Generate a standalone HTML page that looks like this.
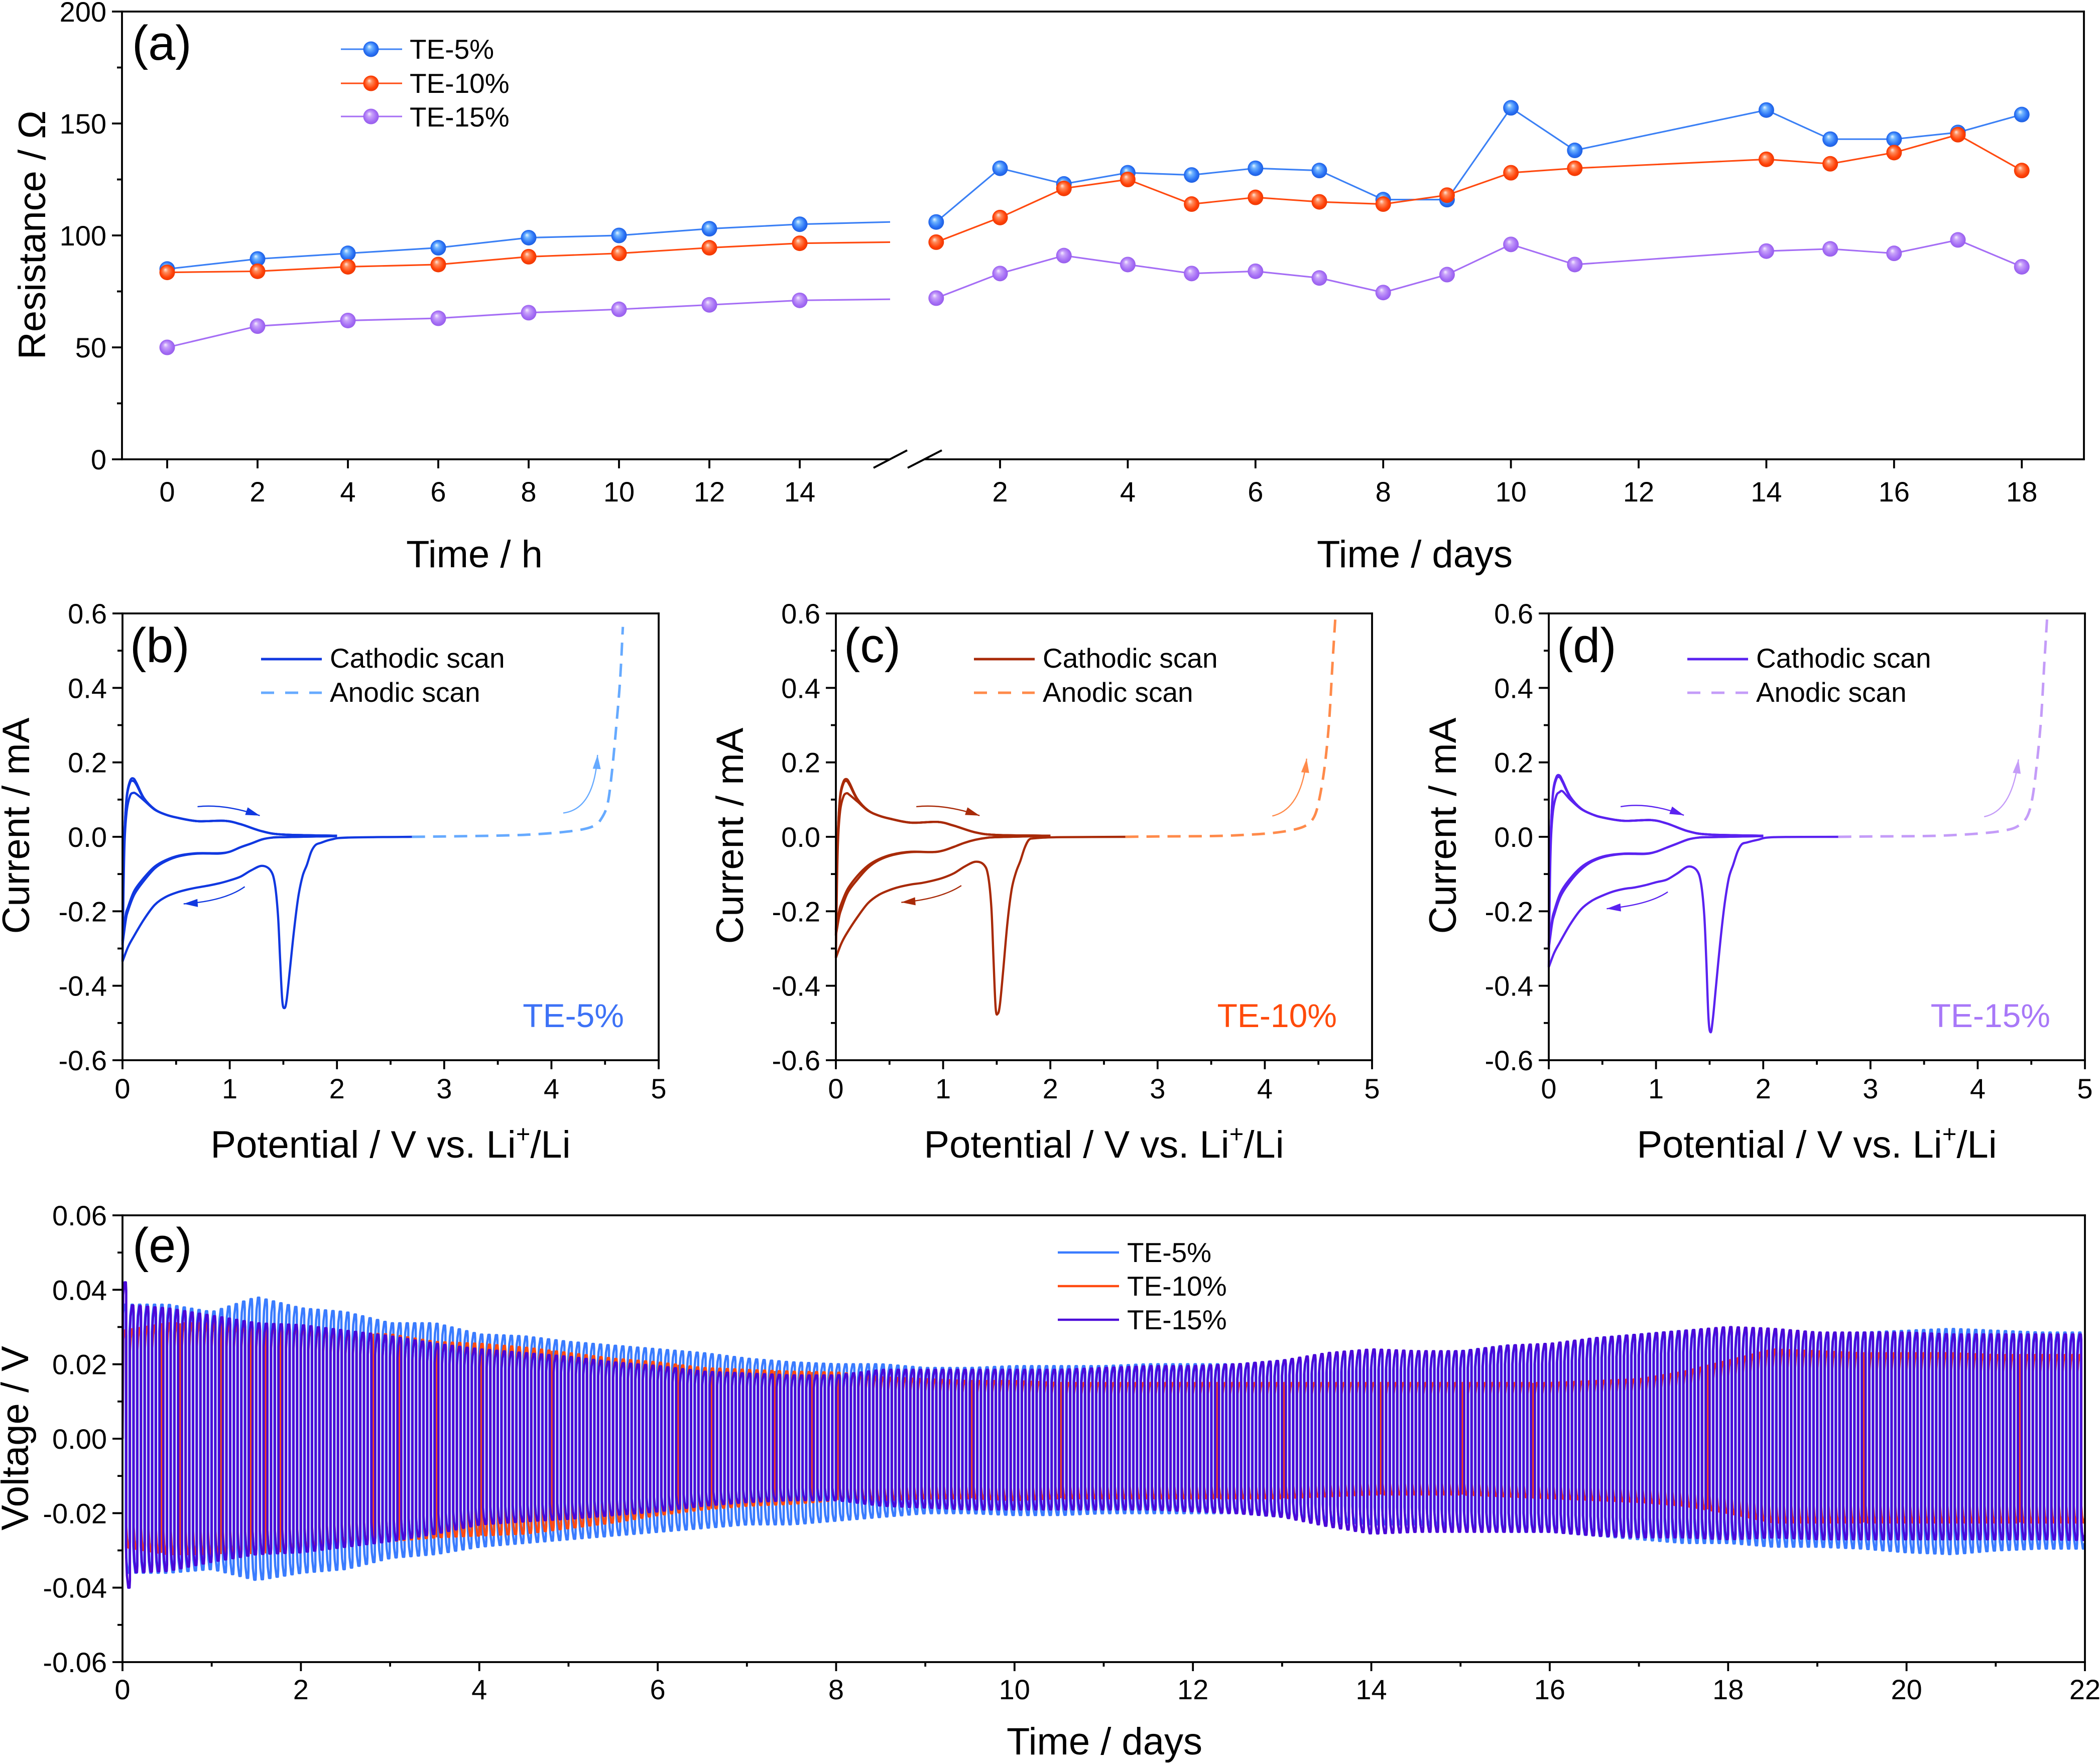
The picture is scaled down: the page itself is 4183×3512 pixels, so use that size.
<!DOCTYPE html>
<html>
<head>
<meta charset="utf-8">
<title>Resistance, cyclic voltammetry and voltage profiles</title>
<style>
html,body{margin:0;padding:0;background:#fff;}
svg{display:block;}
text{font-family:"Liberation Sans",Arial,sans-serif;fill:#000;}
.tick{font-size:56px;}
.title{font-size:76px;}
.leg{font-size:55px;}
.plabel{font-size:97px;}
</style>
</head>
<body>
<svg id="chart" xmlns="http://www.w3.org/2000/svg" width="4183" height="3512" viewBox="0 0 4183 3512">
<defs>
<radialGradient id="gradBlue" cx="0.5" cy="0.5" r="0.55" fx="0.38" fy="0.32"><stop offset="0" stop-color="#e8f6ff"/><stop offset="0.28" stop-color="#6fb4ff"/><stop offset="0.7" stop-color="#2a72f5"/><stop offset="1" stop-color="#1a58d8"/></radialGradient>
<radialGradient id="gradOrange" cx="0.5" cy="0.5" r="0.55" fx="0.38" fy="0.32"><stop offset="0" stop-color="#ffe6dc"/><stop offset="0.28" stop-color="#ff8a5a"/><stop offset="0.7" stop-color="#ff4208"/><stop offset="1" stop-color="#e83400"/></radialGradient>
<radialGradient id="gradPurple" cx="0.5" cy="0.5" r="0.55" fx="0.38" fy="0.32"><stop offset="0" stop-color="#f6eeff"/><stop offset="0.28" stop-color="#c8a2fa"/><stop offset="0.7" stop-color="#a56ef5"/><stop offset="1" stop-color="#9258e8"/></radialGradient>
<clipPath id="clipE"><rect x="244" y="2421" width="3909" height="890"/></clipPath>
</defs>
<rect x="0" y="0" width="4183" height="3512" fill="#fff"/>

<g id="panelA"></g>
<g id="panelB"></g>
<g id="panelC"></g>
<g id="panelD"></g>
<g id="panelE"></g>

<g>
<text class="plabel" x="263" y="119">(a)</text>
<text class="title" transform="translate(90 468) rotate(-90)" text-anchor="middle">Resistance / Ω</text>
<text class="title" x="945" y="1130" text-anchor="middle">Time / h</text>
<text class="title" x="2818" y="1130" text-anchor="middle">Time / days</text>
<g>
<line x1="679" x2="801" y1="98" y2="98" stroke="#3b80f5" stroke-width="3"/>
<circle cx="739" cy="98" r="15.5" fill="url(#gradBlue)"/>
<text class="leg" x="816" y="117">TE-5%</text>
<line x1="679" x2="801" y1="166" y2="166" stroke="#ff4a10" stroke-width="3"/>
<circle cx="739" cy="166" r="15.5" fill="url(#gradOrange)"/>
<text class="leg" x="816" y="185">TE-10%</text>
<line x1="679" x2="801" y1="232" y2="232" stroke="#a56ef5" stroke-width="3"/>
<circle cx="739" cy="232" r="15.5" fill="url(#gradPurple)"/>
<text class="leg" x="816" y="252">TE-15%</text>
</g>
</g>

<g>
<text class="plabel" x="259" y="1319">(b)</text>
<text class="title" transform="translate(58 1645) rotate(-90)" text-anchor="middle">Current / mA</text>
<text class="title" x="778" y="2306" text-anchor="middle">Potential / V vs. Li<tspan dy="-30" font-size="49">+</tspan><tspan dy="30">/Li</tspan></text>
<line x1="520" x2="641" y1="1313" y2="1313" stroke="#1038e0" stroke-width="5"/>
<text class="leg" x="657" y="1330">Cathodic scan</text>
<line x1="520" x2="641" y1="1380" y2="1380" stroke="#66aaff" stroke-width="5" stroke-dasharray="26 22"/>
<text class="leg" x="657" y="1398">Anodic scan</text>
<text x="1243" y="2046" text-anchor="end" font-size="66" style="fill:#3d72f6">TE-5%</text>
</g>

<g>
<text class="plabel" x="1681" y="1319">(c)</text>
<text class="title" transform="translate(1480 1665) rotate(-90)" text-anchor="middle">Current / mA</text>
<text class="title" x="2199" y="2306" text-anchor="middle">Potential / V vs. Li<tspan dy="-30" font-size="49">+</tspan><tspan dy="30">/Li</tspan></text>
<line x1="1940" x2="2061" y1="1313" y2="1313" stroke="#a82a08" stroke-width="5"/>
<text class="leg" x="2077" y="1330">Cathodic scan</text>
<line x1="1940" x2="2061" y1="1380" y2="1380" stroke="#ff8a4a" stroke-width="5" stroke-dasharray="26 22"/>
<text class="leg" x="2077" y="1398">Anodic scan</text>
<text x="2663" y="2046" text-anchor="end" font-size="66" style="fill:#ff4a0a">TE-10%</text>
</g>

<g>
<text class="plabel" x="3101" y="1319">(d)</text>
<text class="title" transform="translate(2900 1645) rotate(-90)" text-anchor="middle">Current / mA</text>
<text class="title" x="3619" y="2306" text-anchor="middle">Potential / V vs. Li<tspan dy="-30" font-size="49">+</tspan><tspan dy="30">/Li</tspan></text>
<line x1="3361" x2="3482" y1="1313" y2="1313" stroke="#5a22f0" stroke-width="5"/>
<text class="leg" x="3498" y="1330">Cathodic scan</text>
<line x1="3361" x2="3482" y1="1380" y2="1380" stroke="#c49cf8" stroke-width="5" stroke-dasharray="26 22"/>
<text class="leg" x="3498" y="1398">Anodic scan</text>
<text x="4084" y="2046" text-anchor="end" font-size="66" style="fill:#a878f8">TE-15%</text>
</g>

<g id="panelEText">
<text class="plabel" x="264" y="2514">(e)</text>
<text class="title" transform="translate(56 2865) rotate(-90)" text-anchor="middle">Voltage / V</text>
<text class="title" x="2200" y="3495" text-anchor="middle">Time / days</text>
<line x1="2107" x2="2229" y1="2495" y2="2495" stroke="#3a7cff" stroke-width="4.6"/>
<text class="leg" x="2245" y="2514">TE-5%</text>
<line x1="2107" x2="2229" y1="2562" y2="2562" stroke="#ff4a10" stroke-width="4.6"/>
<text class="leg" x="2245" y="2581">TE-10%</text>
<line x1="2107" x2="2229" y1="2629" y2="2629" stroke="#4a08d8" stroke-width="4.6"/>
<text class="leg" x="2245" y="2648">TE-15%</text>
</g>
</svg>

<script>
/* ---------- panel (a) data ---------- */
const hourTimes = [0, 2, 4, 6, 8, 10, 12, 14, 16];
const hourTe5  = [85, 89.5, 92, 94.5, 99, 100, 103, 105, 106];
const hourTe10 = [83.5, 84, 86, 87, 90.5, 92, 94.5, 96.5, 97];
const hourTe15 = [50, 59.5, 62, 63, 65.5, 67, 69, 71, 71.5];
const dayTimes = [1, 2, 3, 4, 5, 6, 7, 8, 9, 10, 11, 14, 15, 16, 17, 18];
const dayTe5  = [106, 130, 123, 128, 127, 130, 129, 116, 116, 157, 138, 156, 143, 143, 146, 154];
const dayTe10 = [97, 108, 121, 125, 114, 117, 115, 114, 118, 128, 130, 134, 132, 137, 145, 129];
const dayTe15 = [72, 83, 91, 87, 83, 84, 81, 74.5, 82.5, 96, 87, 93, 94, 92, 98, 86];
const aYTicks = [0, 50, 100, 150, 200];
const aYMinor = [25, 75, 125, 175];
const aHourTicks = [0, 2, 4, 6, 8, 10, 12, 14];
const aDayTicks = [2, 4, 6, 8, 10, 12, 14, 16, 18];

/* ---------- panels (b,c,d) data ---------- */
const cvYTicks = [-0.6, -0.4, -0.2, 0, 0.2, 0.4, 0.6];
const cvYLabels = ['-0.6', '-0.4', '-0.2', '0.0', '0.2', '0.4', '0.6'];
const cvYMinor = [-0.5, -0.3, -0.1, 0.1, 0.3, 0.5];
const cvXTicks = [0, 1, 2, 3, 4, 5];
const cvXMinor = [0.5, 1.5, 2.5, 3.5, 4.5];

const firstSweepV = [2.7, 2.1, 1.95, 1.85, 1.8, 1.76, 1.72, 1.68, 1.64, 1.6, 1.56, 1.53, 1.51, 1.49, 1.47, 1.45, 1.42, 1.38, 1.3, 1.2, 1.1, 1.0, 0.9, 0.8, 0.7, 0.6, 0.5, 0.4, 0.3, 0.2, 0.1, 0.05, 0];
const laterSweepV = [2, 1.5, 1.4, 1.3, 1.2, 1.1, 1.0, 0.9, 0.7, 0.53, 0.4, 0.3, 0.2, 0.11, 0.05, 0.03, 0];
const returnSweepV = [0, 0.01, 0.02, 0.04, 0.07, 0.1, 0.13, 0.2, 0.3, 0.4, 0.5, 0.7, 0.95, 1.1, 1.3, 1.5, 2];

const bFirstI = [0, -0.002, -0.007, -0.016, -0.022, -0.04, -0.075, -0.105, -0.16, -0.25, -0.36, -0.44, -0.46, -0.44, -0.33, -0.21, -0.125, -0.09, -0.078, -0.09, -0.107, -0.117, -0.125, -0.131, -0.136, -0.142, -0.15, -0.162, -0.183, -0.222, -0.27, -0.297, -0.335];
const bReturn1I = [-0.335, -0.14, -0.01, 0.07, 0.11, 0.118, 0.115, 0.098, 0.073, 0.06, 0.052, 0.042, 0.043, 0.034, 0.015, 0.006, 0.003];
const bLater2I = [0.002, -0.001, -0.002, -0.007, -0.018, -0.028, -0.04, -0.044, -0.044, -0.05, -0.063, -0.08, -0.11, -0.145, -0.19, -0.21, -0.28];
const bReturn2I = [-0.28, -0.1, 0.02, 0.11, 0.15, 0.157, 0.145, 0.104, 0.074, 0.06, 0.052, 0.042, 0.043, 0.034, 0.015, 0.006, 0.003];
const bLater3I = [0.002, -0.001, -0.002, -0.007, -0.018, -0.028, -0.04, -0.045, -0.045, -0.052, -0.066, -0.085, -0.118, -0.155, -0.2, -0.225, -0.29];
const bReturn3I = [-0.29, -0.1, 0.02, 0.105, 0.145, 0.15, 0.14, 0.102, 0.074, 0.06, 0.052, 0.042, 0.043, 0.034, 0.015, 0.006, 0.003];
const bAnodicV = [2.7, 3.0, 3.45, 3.8, 4.08, 4.29, 4.4, 4.457, 4.52, 4.56, 4.6, 4.64, 4.666];
const bAnodicI = [0, 0.001, 0.003, 0.006, 0.012, 0.02, 0.03, 0.045, 0.084, 0.163, 0.282, 0.42, 0.564];

const cFirstI = [0, -0.001, -0.002, -0.004, -0.008, -0.03, -0.065, -0.095, -0.14, -0.23, -0.36, -0.45, -0.475, -0.46, -0.33, -0.19, -0.105, -0.075, -0.067, -0.08, -0.098, -0.11, -0.118, -0.124, -0.128, -0.134, -0.143, -0.156, -0.178, -0.216, -0.26, -0.287, -0.325];
const cReturn1I = [-0.325, -0.13, -0.01, 0.07, 0.108, 0.117, 0.112, 0.095, 0.07, 0.057, 0.049, 0.038, 0.04, 0.03, 0.012, 0.005, 0.003];
const cLater2I = [0.003, -0.001, -0.003, -0.008, -0.016, -0.027, -0.037, -0.041, -0.04, -0.047, -0.06, -0.077, -0.105, -0.14, -0.18, -0.2, -0.25];
const cReturn2I = [-0.25, -0.09, 0.02, 0.11, 0.148, 0.155, 0.143, 0.102, 0.071, 0.057, 0.049, 0.038, 0.04, 0.03, 0.012, 0.005, 0.003];
const cLater3I = [0.003, -0.001, -0.003, -0.008, -0.016, -0.027, -0.037, -0.041, -0.041, -0.049, -0.063, -0.083, -0.115, -0.15, -0.195, -0.215, -0.265];
const cReturn3I = [-0.265, -0.09, 0.02, 0.105, 0.143, 0.15, 0.138, 0.1, 0.071, 0.057, 0.049, 0.038, 0.04, 0.03, 0.012, 0.005, 0.003];
const cAnodicV = [2.7, 3.0, 3.5, 3.8, 4.06, 4.25, 4.38, 4.46, 4.51, 4.56, 4.6, 4.63, 4.66];
const cAnodicI = [0, 0.001, 0.002, 0.005, 0.01, 0.018, 0.03, 0.054, 0.104, 0.193, 0.312, 0.46, 0.6];

const dFirstI = [0, -0.001, -0.008, -0.015, -0.02, -0.04, -0.075, -0.11, -0.18, -0.28, -0.4, -0.49, -0.525, -0.49, -0.34, -0.21, -0.125, -0.09, -0.08, -0.098, -0.115, -0.122, -0.13, -0.136, -0.14, -0.147, -0.158, -0.172, -0.195, -0.235, -0.285, -0.312, -0.35];
const dReturn1I = [-0.35, -0.14, -0.01, 0.07, 0.11, 0.12, 0.122, 0.1, 0.075, 0.061, 0.052, 0.043, 0.045, 0.036, 0.015, 0.006, 0.003];
const dLater2I = [0.002, -0.001, -0.002, -0.007, -0.018, -0.029, -0.04, -0.045, -0.045, -0.051, -0.064, -0.082, -0.112, -0.15, -0.2, -0.225, -0.29];
const dReturn2I = [-0.29, -0.11, 0.02, 0.12, 0.16, 0.165, 0.15, 0.108, 0.076, 0.061, 0.052, 0.043, 0.045, 0.036, 0.015, 0.006, 0.003];
const dLater3I = [0.002, -0.001, -0.002, -0.007, -0.018, -0.029, -0.04, -0.046, -0.046, -0.053, -0.067, -0.088, -0.12, -0.16, -0.21, -0.235, -0.3];
const dReturn3I = [-0.3, -0.11, 0.02, 0.115, 0.155, 0.16, 0.146, 0.106, 0.076, 0.061, 0.052, 0.043, 0.045, 0.036, 0.015, 0.006, 0.003];
const dAnodicV = [2.7, 3.0, 3.5, 3.8, 4.06, 4.25, 4.37, 4.46, 4.51, 4.55, 4.59, 4.62, 4.65];
const dAnodicI = [0, 0.001, 0.002, 0.005, 0.01, 0.017, 0.028, 0.054, 0.104, 0.193, 0.312, 0.46, 0.6];

/* scan-direction arrows: [startV,startI, ctrlV,ctrlI, endV,endI] */
const bArrowForward = [0.70, 0.081, 0.95, 0.089, 1.28, 0.057];
const bArrowBack = [1.14, -0.134, 0.95, -0.173, 0.57, -0.18];
const bArrowAnodic = [4.11, 0.064, 4.40, 0.074, 4.43, 0.22];
const cArrowForward = [0.75, 0.081, 1.01, 0.089, 1.34, 0.057];
const cArrowBack = [1.17, -0.131, 0.97, -0.168, 0.61, -0.176];
const cArrowAnodic = [4.07, 0.056, 4.34, 0.074, 4.39, 0.21];
const dArrowForward = [0.67, 0.081, 0.93, 0.094, 1.26, 0.058];
const dArrowBack = [1.11, -0.148, 0.93, -0.183, 0.54, -0.193];
const dArrowAnodic = [4.06, 0.054, 4.32, 0.069, 4.38, 0.208];

/* ---------- panel (e) data: peak envelopes read at half-day steps ---------- */
const eDays = [0,0.5,1,1.5,2,2.5,3,3.5,4,4.5,5,5.5,6,6.5,7,7.5,8,8.5,9,9.5,10,10.5,11,11.5,12,12.5,13,13.5,14,14.5,15,15.5,16,16.5,17,17.5,18,18.5,19,19.5,20,20.5,21,21.5,22];
const te5Upper = [.036,.036,.034,.038,.035,.034,.031,.031,.028,.0275,.026,.025,.024,.023,.0215,.0205,.020,.020,.019,.019,.0195,.0195,.0195,.02,.02,.02,.021,.022,.023,.023,.0235,.025,.025,.027,.028,.029,.0295,.029,.028,.0285,.029,.0295,.029,.0285,.0285];
const te5Lower = [-.036,-.036,-.035,-.038,-.036,-.035,-.032,-.031,-.029,-.028,-.027,-.026,-.025,-.024,-.023,-.023,-.022,-.021,-.02,-.02,-.0205,-.0205,-.02,-.02,-.02,-.02,-.021,-.022,-.023,-.023,-.024,-.025,-.025,-.026,-.027,-.028,-.028,-.029,-.029,-.0295,-.0305,-.031,-.03,-.0295,-.0295];
const te10Upper = [.029,.031,.031,.0305,.03,.0285,.028,.026,.0255,.0245,.023,.0215,.0205,.019,.0185,.018,.0178,.0165,.016,.0155,.0155,.015,.015,.015,.015,.015,.015,.015,.015,.015,.015,.015,.015,.0155,.016,.018,.021,.024,.0235,.023,.023,.023,.0225,.0225,.0225];
const te10Lower = [-.029,-.031,-.031,-.031,-.03,-.0285,-.0275,-.0265,-.026,-.0255,-.024,-.0225,-.0205,-.019,-.018,-.0175,-.0165,-.0165,-.016,-.016,-.0165,-.016,-.016,-.016,-.016,-.016,-.016,-.0155,-.015,-.015,-.015,-.0155,-.016,-.0165,-.017,-.018,-.02,-.0225,-.0225,-.0225,-.0225,-.0225,-.0225,-.0225,-.0225];
const te15Upper = [.036,.035,.033,.031,.0305,.029,.0275,.0255,.024,.023,.022,.0205,.0195,.018,.0175,.017,.017,.0185,.0185,.0185,.0185,.0185,.019,.0195,.0195,.02,.021,.023,.024,.0235,.0235,.025,.0255,.027,.028,.029,.03,.0295,.0285,.0285,.0285,.028,.028,.028,.028];
const te15Lower = [-.036,-.0355,-.033,-.031,-.0305,-.029,-.0275,-.0255,-.023,-.0222,-.0215,-.0205,-.0195,-.018,-.017,-.0165,-.0165,-.018,-.0185,-.019,-.019,-.019,-.019,-.019,-.0195,-.02,-.021,-.0235,-.0255,-.025,-.025,-.025,-.025,-.026,-.0265,-.0265,-.027,-.0265,-.027,-.027,-.027,-.027,-.027,-.027,-.0272];
const te15FirstCycle = [0.042, -0.040];
const te10OffsetDays = [0.41,0.62,1.07,1.42,1.59,1.76,2.79,3.08,3.51,4.0,4.79,6.2,6.6,7.3,7.7,8.0,9.5,10.5,12.25,13.0,14.1,15.0,15.8,17.75,19.5,21.25];
const eYTicks = [-0.06, -0.04, -0.02, 0, 0.02, 0.04, 0.06];
const eYLabels = ['-0.06', '-0.04', '-0.02', '0.00', '0.02', '0.04', '0.06'];
const eYMinor = [-0.05, -0.03, -0.01, 0.01, 0.03, 0.05];
const eXTicks = [0, 2, 4, 6, 8, 10, 12, 14, 16, 18, 20, 22];
const eXMinor = [1, 3, 5, 7, 9, 11, 13, 15, 17, 19, 21];

/* ---------- helpers ---------- */
const NS = 'http://www.w3.org/2000/svg';
const AXW = 3.8;
function mk(tag, attrs, parent) {
  const node = document.createElementNS(NS, tag);
  for (const k in attrs) node.setAttribute(k, attrs[k]);
  parent.appendChild(node);
  return node;
}
function polyPath(pts) {
  return 'M' + pts.map(p => p[0].toFixed(1) + ' ' + p[1].toFixed(1)).join('L');
}
function smoothPath(pts) {
  let d = 'M' + pts[0][0].toFixed(1) + ' ' + pts[0][1].toFixed(1);
  for (let i = 0; i < pts.length - 1; i++) {
    const p0 = pts[Math.max(0, i - 1)], p1 = pts[i], p2 = pts[i + 1], p3 = pts[Math.min(pts.length - 1, i + 2)];
    const c1x = p1[0] + (p2[0] - p0[0]) / 6, c1y = p1[1] + (p2[1] - p0[1]) / 6;
    const c2x = p2[0] - (p3[0] - p1[0]) / 6, c2y = p2[1] - (p3[1] - p1[1]) / 6;
    d += 'C' + c1x.toFixed(1) + ' ' + c1y.toFixed(1) + ' ' + c2x.toFixed(1) + ' ' + c2y.toFixed(1) + ' ' + p2[0].toFixed(1) + ' ' + p2[1].toFixed(1);
  }
  return d;
}
function vTick(parent, x, y0, len, name) {
  const el = mk('line', {x1: x, x2: x, y1: y0, y2: y0 + len, stroke: '#000', 'stroke-width': AXW}, parent);
  
  
}
function hTick(parent, y, x0, len, name) {
  const el = mk('line', {x1: x0 - len, x2: x0, y1: y, y2: y, stroke: '#000', 'stroke-width': AXW}, parent);
  
  
}
function tickText(parent, x, y, label, anchor, name) {
  const el = mk('text', {x: x, y: y, 'text-anchor': anchor, class: 'tick'}, parent);
  el.textContent = label;
  
  
}
function frameLine(parent, x1, y1, x2, y2, name) {
  const el = mk('line', {x1: x1, y1: y1, x2: x2, y2: y2, stroke: '#000', 'stroke-width': AXW, 'stroke-linecap': 'square'}, parent);
  
  
}

/* ---------- panel (a) ---------- */
(function () {
  const g = document.getElementById('panelA');
  const L = 243, R = 4151, T = 23, B = 915;
  const y = v => B - v * (B - T) / 200;
  const xH = h => 333 + h * 90;
  const xD = d => 1992 + (d - 2) * 127.2;

  const series = [
    {name: 'te5', color: '#3b80f5', grad: 'url(#gradBlue)', h: hourTe5, d: dayTe5},
    {name: 'te10', color: '#ff4a10', grad: 'url(#gradOrange)', h: hourTe10, d: dayTe10},
    {name: 'te15', color: '#a56ef5', grad: 'url(#gradPurple)', h: hourTe15, d: dayTe15}
  ];
  series.forEach(s => {
    const l1 = mk('path', {d: polyPath(hourTimes.map((t, i) => [xH(t), y(s.h[i])])), fill: 'none', stroke: s.color, 'stroke-width': 3.2}, g);
    
    
    const l2 = mk('path', {d: polyPath(dayTimes.map((t, i) => [xD(t), y(s.d[i])])), fill: 'none', stroke: s.color, 'stroke-width': 3.2}, g);
    
    
  });
  series.forEach(s => {
    hourTimes.forEach((t, i) => {
      if (i === hourTimes.length - 1) return;
      const c = mk('circle', {cx: xH(t), cy: y(s.h[i]), r: 15.5, fill: s.grad}, g);
      
      
    });
    dayTimes.forEach((t, i) => {
      const c = mk('circle', {cx: xD(t), cy: y(s.d[i]), r: 15.5, fill: s.grad}, g);
      
      
    });
  });

  frameLine(g, L, T, R, T, 'top-axis-a');
  frameLine(g, R, T, R, B, 'right-axis-a');
  frameLine(g, L, T, L, B, 'left-axis-a');
  frameLine(g, L, B, 1770, B, 'bottom-axis-hours');
  frameLine(g, 1842, B, R, B, 'bottom-axis-days');
  const s1 = mk('line', {x1: 1740, y1: 932, x2: 1807, y2: 897, stroke: '#000', 'stroke-width': 4}, g);
  
  
  const s2 = mk('line', {x1: 1808, y1: 932, x2: 1876, y2: 897, stroke: '#000', 'stroke-width': 4}, g);
  
  

  aYTicks.forEach(v => {
    hTick(g, y(v), L, 20, 'y-tick-a');
    tickText(g, L - 31, y(v) + 20, String(v), 'end', 'y-tick-label-a');
  });
  aYMinor.forEach(v => hTick(g, y(v), L, 10, 'y-minor-tick-a'));
  aHourTicks.forEach(v => {
    vTick(g, xH(v), B, 18, 'x-tick-hours');
    tickText(g, xH(v), 999, String(v), 'middle', 'x-tick-label-hours');
  });
  aDayTicks.forEach(v => {
    vTick(g, xD(v), B, 18, 'x-tick-days');
    tickText(g, xD(v), 999, String(v), 'middle', 'x-tick-label-days');
  });
})();

/* ---------- panels (b,c,d) ---------- */
function drawCV(cfg) {
  const g = document.getElementById(cfg.id);
  const L = cfg.left, R = cfg.left + 1068, T = 1222, B = 2112;
  const x = v => L + v * (R - L) / 5;
  const y = i => (T + B) / 2 - i * (B - T) / 1.2;
  const curves = [
    {v: firstSweepV, i: cfg.first, w: 4.4, n: 'cv-first-cathodic'},
    {v: returnSweepV, i: cfg.ret1, w: 4.4, n: 'cv-first-return'},
    {v: laterSweepV, i: cfg.later2, w: 4.4, n: 'cv-second-cathodic'},
    {v: returnSweepV, i: cfg.ret2, w: 4.4, n: 'cv-second-return'},
    {v: laterSweepV, i: cfg.later3, w: 4.4, n: 'cv-third-cathodic'},
    {v: returnSweepV, i: cfg.ret3, w: 4.4, n: 'cv-third-return'}
  ];
  curves.forEach(c => {
    const el = mk('path', {d: smoothPath(c.v.map((v, k) => [x(v), y(c.i[k])])), fill: 'none', stroke: cfg.dark, 'stroke-width': c.w, 'stroke-linejoin': 'round'}, g);
    
    
  });
  const an = mk('path', {d: smoothPath(cfg.anV.map((v, k) => [x(v), y(cfg.anI[k])])), fill: 'none', stroke: cfg.light, 'stroke-width': 5, 'stroke-dasharray': '26 16'}, g);
  
  

  const arrows = [[cfg.arrows[0], cfg.dark, 'arrow-forward-scan'], [cfg.arrows[1], cfg.dark, 'arrow-back-scan'], [cfg.arrows[2], cfg.light, 'arrow-anodic-scan']];
  arrows.forEach(a => {
    const p = a[0];
    const sx = x(p[0]), sy = y(p[1]), cx = x(p[2]), cy = y(p[3]), ex = x(p[4]), ey = y(p[5]);
    const line = mk('path', {d: 'M' + sx + ' ' + sy + 'Q' + cx + ' ' + cy + ' ' + ex + ' ' + ey, fill: 'none', stroke: a[1], 'stroke-width': 2.4}, g);
    
    
    const dx = ex - cx, dy = ey - cy, n = Math.hypot(dx, dy), ux = dx / n, uy = dy / n;
    const bx = ex - ux * 28, by = ey - uy * 28;
    const head = mk('polygon', {points: ex + ',' + ey + ' ' + (bx - uy * 8) + ',' + (by + ux * 8) + ' ' + (bx + uy * 8) + ',' + (by - ux * 8), fill: a[1]}, g);
    
    
  });

  frameLine(g, L, T, R, T, 'top-axis');
  frameLine(g, R, T, R, B, 'right-axis');
  frameLine(g, L, T, L, B, 'left-axis');
  frameLine(g, L, B, R, B, 'bottom-axis');
  cvYTicks.forEach((v, k) => {
    hTick(g, y(v), L, 20, 'y-tick');
    tickText(g, L - 31, y(v) + 20, cvYLabels[k], 'end', 'y-tick-label');
  });
  cvYMinor.forEach(v => hTick(g, y(v), L, 10, 'y-minor-tick'));
  cvXTicks.forEach(v => {
    vTick(g, x(v), B, 18, 'x-tick');
    tickText(g, x(v), 2188, String(v), 'middle', 'x-tick-label');
  });
  cvXMinor.forEach(v => vTick(g, x(v), B, 9, 'x-minor-tick'));
}
drawCV({id: 'panelB', left: 244, dark: '#1038e0', light: '#66aaff', first: bFirstI, ret1: bReturn1I, later2: bLater2I, ret2: bReturn2I, later3: bLater3I, ret3: bReturn3I, anV: bAnodicV, anI: bAnodicI, arrows: [bArrowForward, bArrowBack, bArrowAnodic]});
drawCV({id: 'panelC', left: 1665, dark: '#a82a08', light: '#ff8a4a', first: cFirstI, ret1: cReturn1I, later2: cLater2I, ret2: cReturn2I, later3: cLater3I, ret3: cReturn3I, anV: cAnodicV, anI: cAnodicI, arrows: [cArrowForward, cArrowBack, cArrowAnodic]});
drawCV({id: 'panelD', left: 3085, dark: '#5a22f0', light: '#c49cf8', first: dFirstI, ret1: dReturn1I, later2: dLater2I, ret2: dReturn2I, later3: dLater3I, ret3: dReturn3I, anV: dAnodicV, anI: dAnodicI, arrows: [dArrowForward, dArrowBack, dArrowAnodic]});

/* ---------- panel (e) ---------- */
(function () {
  const g = document.getElementById('panelE');
  const L = 244, R = 4153, T = 2421, B = 3311;
  const x = d => L + d * (R - L) / 22;
  const y = v => (T + B) / 2 - v * (B - T) / 0.12;
  const halfDay = 1 / 24;
  const w = x(halfDay) - x(0);
  function lookup(arr, d) {
    const p = Math.min(eDays.length - 2, Math.max(0, Math.floor(d / 0.5)));
    const f = (d - eDays[p]) / (eDays[p + 1] - eDays[p]);
    return arr[p] + (arr[p + 1] - arr[p]) * f;
  }
  function cyclePath(up, lo, shift, first) {
    let d = '';
    const n = Math.round(22 / halfDay);
    for (let i = 0; i < n; i++) {
      const t = i * halfDay;
      const arr = i % 2 === 0 ? up : lo;
      let a = lookup(arr, t + halfDay / 2);
      if (first && i < 2) a = first[i];
      const x0 = x(t) + shift;
      d += (i === 0 ? 'M' : 'L') + x0.toFixed(1) + ' ' + y(i === 0 ? 0 : a * 0.8).toFixed(1);
      d += 'L' + (x0 + w * 0.2).toFixed(1) + ' ' + y(a * 0.92).toFixed(1);
      d += 'L' + (x0 + w * 0.55).toFixed(1) + ' ' + y(a).toFixed(1);
      d += 'L' + (x0 + w * 0.9).toFixed(1) + ' ' + y(a).toFixed(1);
      d += 'L' + (x0 + w).toFixed(1) + ' ' + y(a * 0.95).toFixed(1);
    }
    return d;
  }
  const clip = mk('g', {'clip-path': 'url(#clipE)'}, g);
  
  

  const blue = mk('path', {d: cyclePath(te5Upper, te5Lower, -0.8, null), fill: 'none', stroke: '#3a7cff', 'stroke-width': 4.6, 'stroke-linejoin': 'round'}, clip);
  
  
  const orange = mk('path', {d: cyclePath(te10Upper, te10Lower, 0.2, null), fill: 'none', stroke: '#ff4a10', 'stroke-width': 4.4, 'stroke-linejoin': 'round'}, clip);
  
  
  te10OffsetDays.forEach(dayVal => {
    const k = Math.round(dayVal / halfDay);
    const lx = x(k * halfDay) + w / 2;
    const t = k * halfDay;
    const ln = mk('line', {x1: lx, x2: lx, y1: y(lookup(te10Upper, t)), y2: y(lookup(te10Lower, t)), stroke: '#ff4a10', 'stroke-width': 3}, clip);
    
    
  });
  const purple = mk('path', {d: cyclePath(te15Upper, te15Lower, 0, te15FirstCycle), fill: 'none', stroke: '#4a08d8', 'stroke-width': 4.6, 'stroke-linejoin': 'round'}, clip);
  
  

  frameLine(g, L, T, R, T, 'top-axis-e');
  frameLine(g, R, T, R, B, 'right-axis-e');
  frameLine(g, L, T, L, B, 'left-axis-e');
  frameLine(g, L, B, R, B, 'bottom-axis-e');
  eYTicks.forEach((v, k) => {
    hTick(g, y(v), L, 20, 'y-tick-e');
    tickText(g, L - 31, y(v) + 20, eYLabels[k], 'end', 'y-tick-label-e');
  });
  eYMinor.forEach(v => hTick(g, y(v), L, 10, 'y-minor-tick-e'));
  eXTicks.forEach(v => {
    vTick(g, x(v), B, 18, 'x-tick-e');
    tickText(g, x(v), 3385, String(v), 'middle', 'x-tick-label-e');
  });
  eXMinor.forEach(v => vTick(g, x(v), B, 9, 'x-minor-tick-e'));
})();
</script>
</body>
</html>
